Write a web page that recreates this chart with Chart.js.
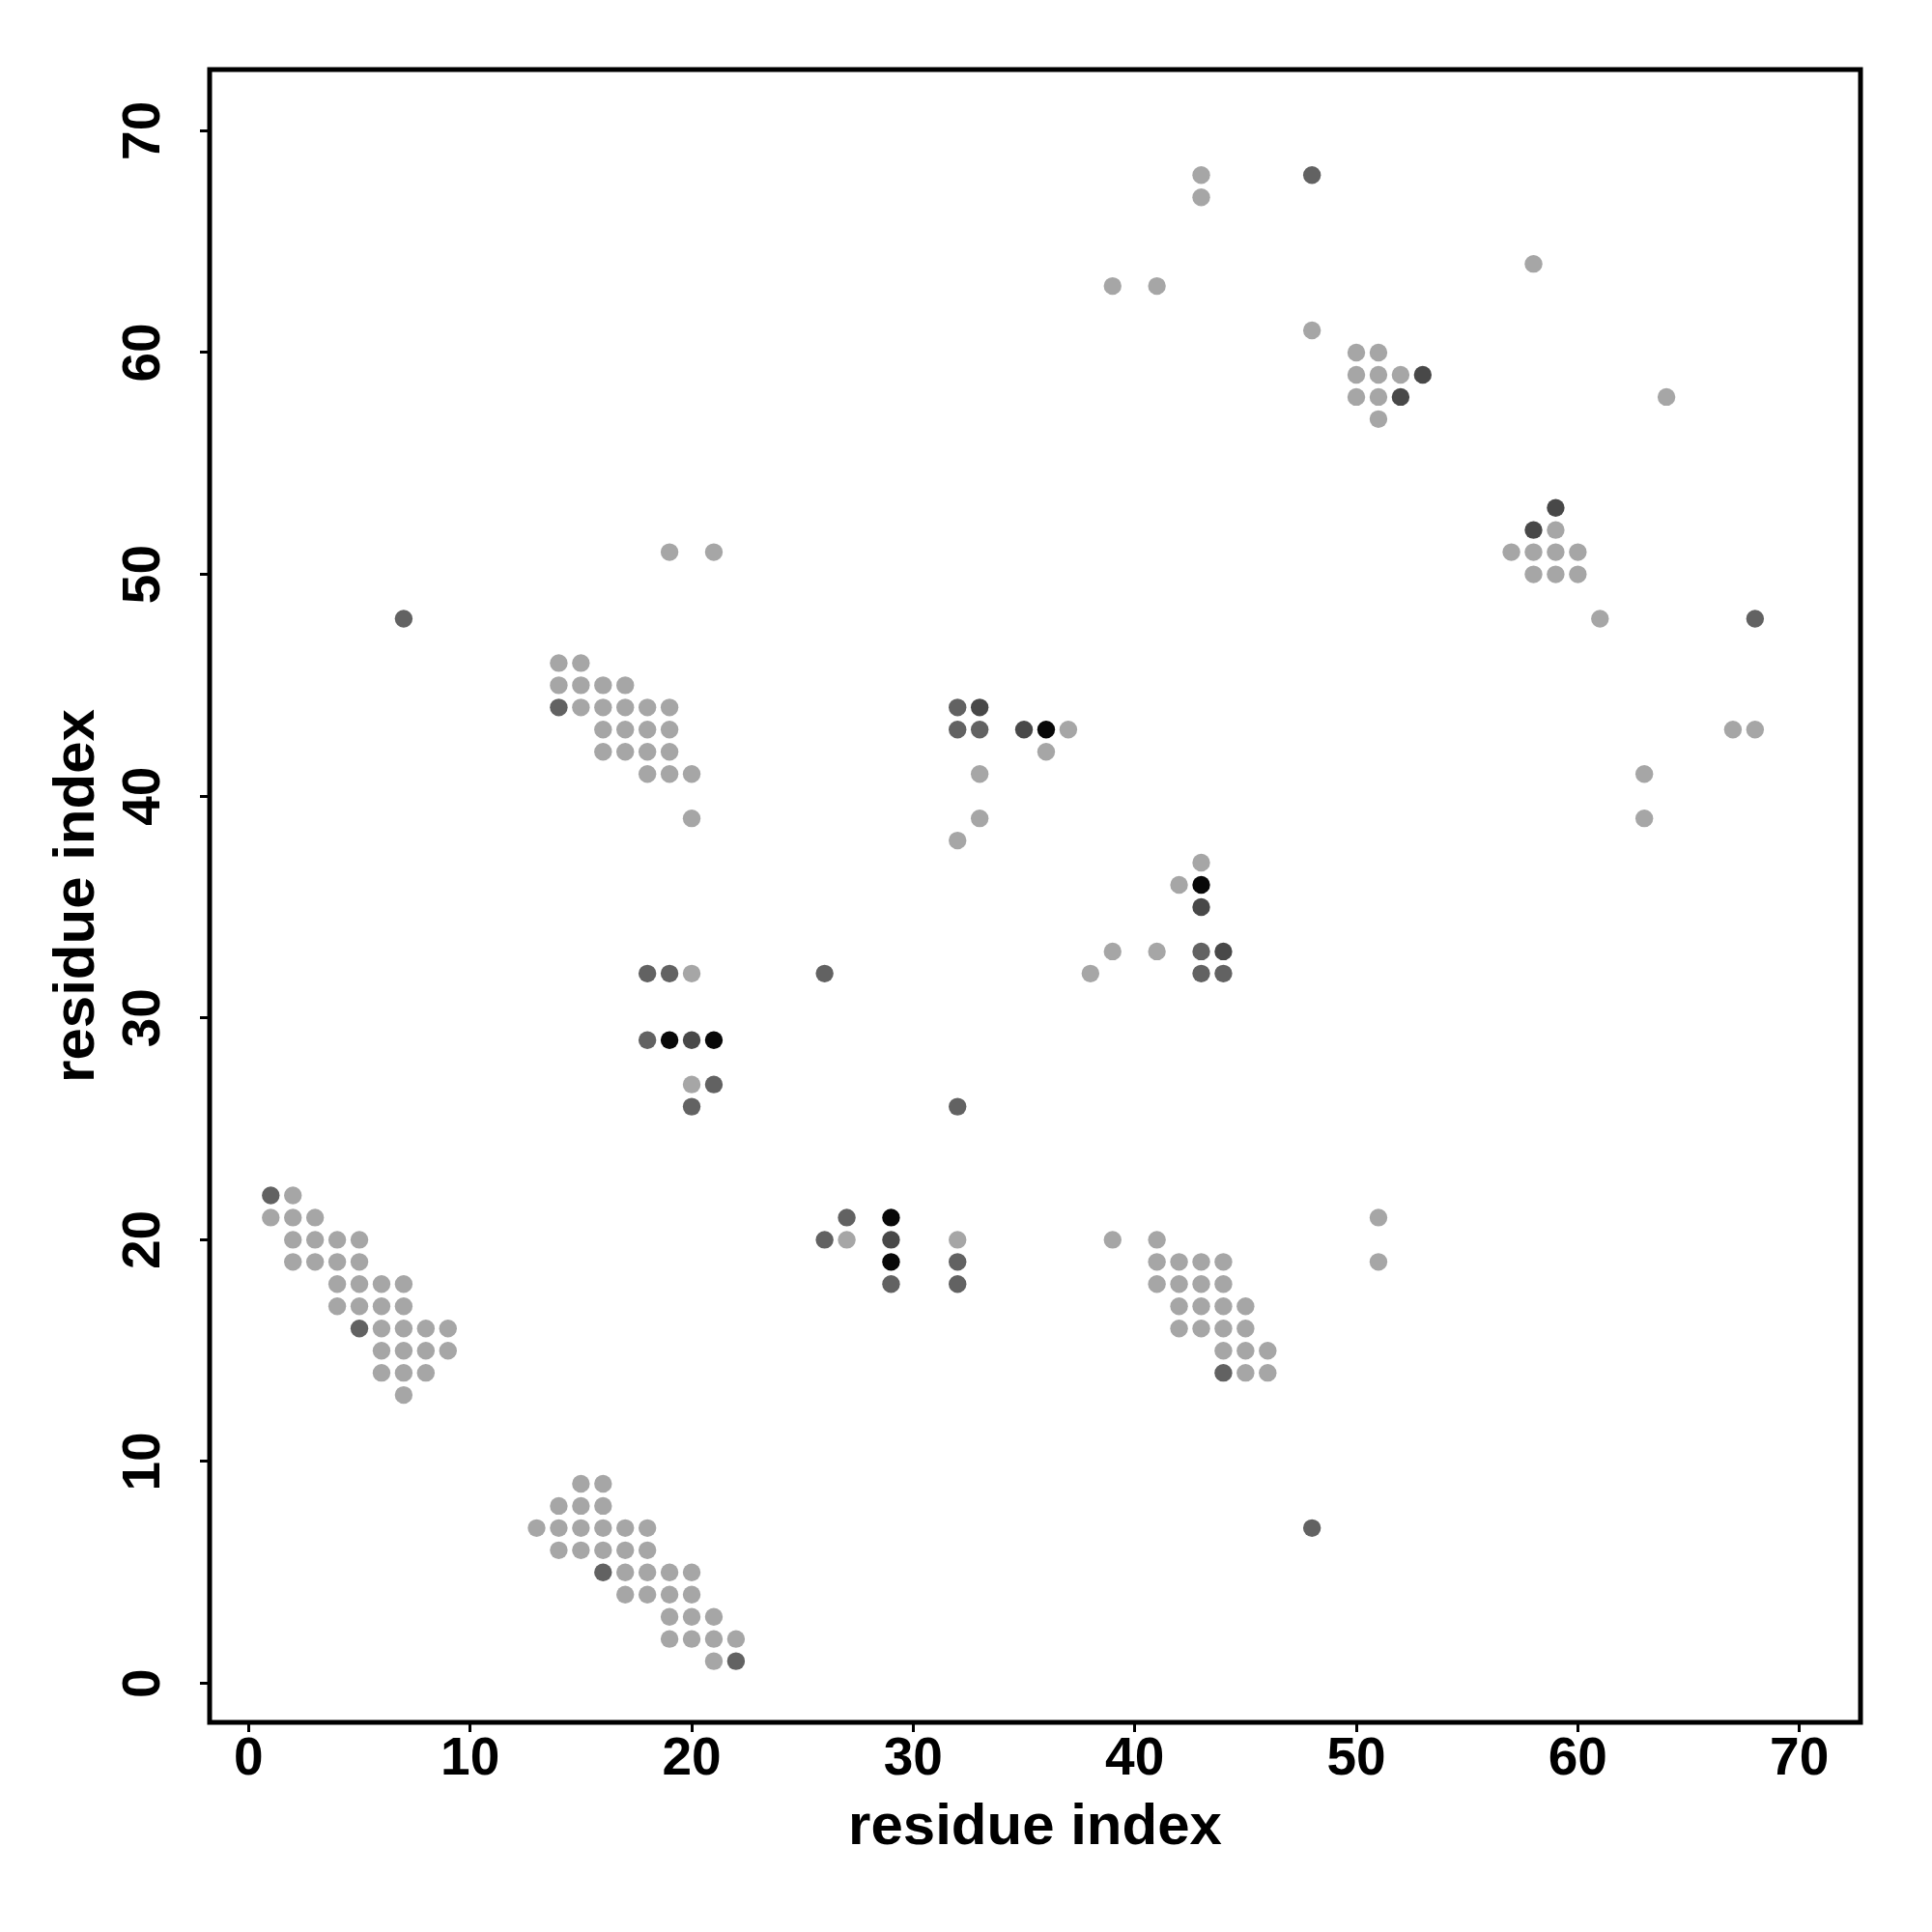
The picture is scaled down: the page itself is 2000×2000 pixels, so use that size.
<!DOCTYPE html>
<html>
<head>
<meta charset="utf-8">
<script src="https://cdn.jsdelivr.net/npm/chart.js@4.4.1/dist/chart.umd.min.js"></script>
<style>
body { margin: 0; background: #fff; }
canvas { display: block; }
</style>
</head>
<body>
<canvas id="myChart" width="2000" height="2000"></canvas>
<script>
// contact points [x, y], grouped by grey level
var lightPts = [
	[2,22],[1,21],[2,21],[3,21],[2,20],[3,20],[4,20],[5,20],[2,19],[3,19],[4,19],[5,19],
	[4,18],[5,18],[6,18],[7,18],[4,17],[5,17],[6,17],[7,17],[6,16],[7,16],[8,16],[9,16],
	[6,15],[7,15],[8,15],[9,15],[6,14],[7,14],[8,14],[7,13],
	[15,9],[16,9],[14,8],[15,8],[16,8],[13,7],[14,7],[15,7],[16,7],[17,7],[18,7],
	[14,6],[15,6],[16,6],[17,6],[18,6],[17,5],[18,5],[19,5],[20,5],[17,4],[18,4],[19,4],[20,4],
	[19,3],[20,3],[21,3],[19,2],[20,2],[21,2],[22,2],[21,1],
	[39,20],[41,20],[41,19],[42,19],[43,19],[44,19],[41,18],[42,18],[43,18],[44,18],
	[42,17],[43,17],[44,17],[45,17],[42,16],[43,16],[44,16],[45,16],[44,15],[45,15],[46,15],
	[45,14],[46,14],[51,21],[51,19],
	[14,46],[15,46],[14,45],[15,45],[16,45],[17,45],[15,44],[16,44],[17,44],[18,44],[19,44],
	[16,43],[17,43],[18,43],[19,43],[16,42],[17,42],[18,42],[19,42],[18,41],[19,41],[20,41],
	[20,39],[19,51],[21,51],
	[37,43],[36,42],[33,41],[33,39],[32,38],[43,37],[42,36],[39,33],[41,33],[38,32],
	[20,32],[20,27],[27,20],[32,20],
	[43,68],[43,67],[39,63],[41,63],[58,64],[48,61],[64,58],
	[50,60],[51,60],[50,59],[51,59],[52,59],[50,58],[51,58],[51,57],
	[59,52],[57,51],[58,51],[59,51],[60,51],[58,50],[59,50],[60,50],
	[61,48],[67,43],[68,43],[63,41],[63,39]
];
var midPts = [
	[1,22],[22,1],[5,16],[16,5],[14,44],[44,14],[7,48],[48,7],[48,68],[68,48],
	[26,20],[20,26],[27,21],[21,27],[29,18],[18,29],[32,19],[19,32],[32,18],[18,32],
	[32,26],[26,32],[32,44],[44,32],[32,43],[43,32],[33,43],[43,33]
];
var darkPts = [
	[29,20],[20,29],[33,44],[44,33],[35,43],[43,35],[52,58],[58,52],[53,59],[59,53]
];
var blackPts = [
	[29,21],[21,29],[29,19],[19,29],[36,43],[43,36]
];
var tickVals = [0,10,20,30,40,50,60,70];
var axisMin = -1.76;
var axisMax = 72.76;

function toXY(list){
	return list.map(function(p){ return {x: p[0], y: p[1]}; });
}

function makeSet(label, list, col){
	return {
		label: label,
		data: toXY(list),
		backgroundColor: col,
		borderWidth: 0,
		pointRadius: 9.2,
		pointHoverRadius: 9.2
	};
}

var frame = {
	id: 'frame',
	afterDatasetsDraw: function(chart){
		var a = chart.chartArea;
		var c = chart.ctx;
		c.save();
		c.strokeStyle = '#000';
		c.lineWidth = 5;
		c.strokeRect(a.left, a.top, a.right - a.left, a.bottom - a.top);
		c.restore();
	}
};

function setTicks(scale){
	scale.ticks = tickVals.map(function(v){ return {value: v}; });
}

var tickFont = {family: 'Liberation Sans', weight: 'bold', size: 55, lineHeight: 1};
var titleFont = {family: 'Liberation Sans', weight: 'bold', size: 60};

var chart1 = new Chart(document.getElementById('myChart'), {
	type: 'scatter',
	data: {
		datasets: [
			makeSet('light', lightPts, '#a6a6a6'),
			makeSet('mid', midPts, '#626262'),
			makeSet('dark', darkPts, '#484848'),
			makeSet('black', blackPts, '#080808')
		]
	},
	options: {
		responsive: false,
		animation: false,
		devicePixelRatio: 1,
		layout: { padding: {top: 72, right: 74, left: 0, bottom: 0} },
		plugins: { legend: {display: false}, tooltip: {enabled: false} },
		scales: {
			x: {
				type: 'linear',
				position: 'bottom',
				min: axisMin,
				max: axisMax,
				afterBuildTicks: setTicks,
				afterFit: function(s){ s.height = 217; },
				border: {display: false},
				grid: {drawOnChartArea: false, drawTicks: true, tickLength: 10, color: '#000', lineWidth: 3},
				ticks: {color: '#000', font: tickFont, padding: 1, maxRotation: 0, autoSkip: false},
				title: {display: true, text: 'residue index', color: '#000', font: titleFont, padding: {top: 0, bottom: 72}}
			},
			y: {
				type: 'linear',
				position: 'left',
				min: axisMin,
				max: axisMax,
				afterBuildTicks: setTicks,
				afterFit: function(s){ s.width = 217; },
				border: {display: false},
				grid: {drawOnChartArea: false, drawTicks: true, tickLength: 10, color: '#000', lineWidth: 3},
				ticks: {color: '#000', font: tickFont, padding: 27, minRotation: 90, maxRotation: 90, crossAlign: 'center', autoSkip: false},
				title: {display: true, text: 'residue index', color: '#000', font: titleFont, padding: {top: 44, bottom: 0}}
			}
		}
	},
	plugins: [frame]
});
</script>
</body>
</html>
